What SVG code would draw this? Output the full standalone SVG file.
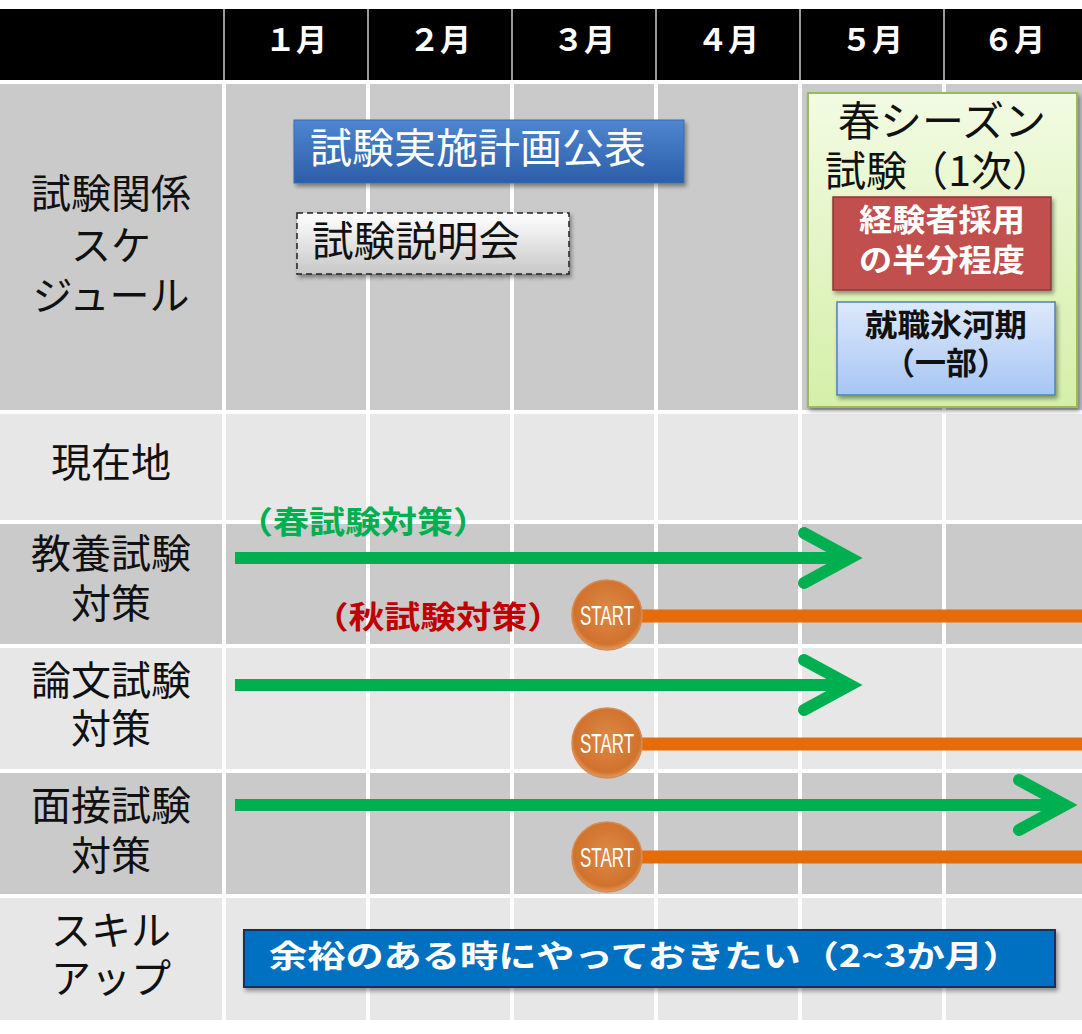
<svg xmlns="http://www.w3.org/2000/svg" width="1082" height="1034" viewBox="0 0 1082 1034">
<defs>
<style>
.hd{fill:#000}
.dk{fill:#cacaca}
.lt{fill:#e7e7e7}
.mh{font-family:"Noto Sans CJK JP","Liberation Sans",sans-serif;font-weight:700;font-size:31px;fill:#fff;text-anchor:middle}
.lb{font-family:"Noto Sans CJK JP","Noto Sans",sans-serif;font-weight:400;font-size:40px;fill:#111;text-anchor:middle}
.bx{font-family:"Noto Sans CJK JP","Noto Sans",sans-serif;font-weight:400;font-size:41px}
.bd{font-family:"Noto Sans CJK JP","Noto Sans",sans-serif;font-weight:700;font-size:31px;text-anchor:middle}
.st{font-family:"Liberation Sans","DejaVu Sans",sans-serif;font-size:27px;fill:#fff;text-anchor:middle}
.gr{fill:none;stroke:#00b050;stroke-width:12}
.or{fill:none;stroke:#e46c0a;stroke-width:13}
</style>
<linearGradient id="gBlue" x1="0" y1="0" x2="0" y2="1">
<stop offset="0" stop-color="#4f86cf"/><stop offset="1" stop-color="#2b5ea8"/>
</linearGradient>
<linearGradient id="gGray" x1="0" y1="0" x2="0" y2="1">
<stop offset="0" stop-color="#ffffff"/><stop offset="1" stop-color="#c8c8c8"/>
</linearGradient>
<linearGradient id="gGreen" x1="0" y1="0" x2="0" y2="1">
<stop offset="0" stop-color="#f2fbe3"/><stop offset="1" stop-color="#d5efa9"/>
</linearGradient>
<linearGradient id="gLBlue" x1="0" y1="0" x2="0" y2="1">
<stop offset="0" stop-color="#dde9fb"/><stop offset="1" stop-color="#a6c6f3"/>
</linearGradient>
<radialGradient id="gOr" cx="0.5" cy="0.45" r="0.55">
<stop offset="0" stop-color="#dd8a48"/><stop offset="0.85" stop-color="#d0722c"/><stop offset="1" stop-color="#e09a62"/>
</radialGradient>
<filter id="sh" x="-10%" y="-20%" width="125%" height="150%">
<feDropShadow dx="2" dy="3" stdDeviation="2" flood-color="#000" flood-opacity="0.4"/>
</filter>
</defs>
<rect width="1082" height="1034" fill="#fff"/>

<g id="grid">
<rect x="0" y="9" width="1082" height="71" fill="#9a9a9a"/>
<rect class="hd" x="0" y="9" width="223" height="71"/>
<rect class="hd" x="225" y="9" width="142" height="71"/>
<rect class="hd" x="369" y="9" width="142" height="71"/>
<rect class="hd" x="513" y="9" width="142" height="71"/>
<rect class="hd" x="657" y="9" width="142" height="71"/>
<rect class="hd" x="801" y="9" width="142" height="71"/>
<rect class="hd" x="945" y="9" width="137" height="71"/>
<text class="mh" x="296" y="51">１月</text>
<text class="mh" x="440" y="51">２月</text>
<text class="mh" x="584" y="51">３月</text>
<text class="mh" x="728" y="51">４月</text>
<text class="mh" x="872" y="51">５月</text>
<text class="mh" x="1014" y="51">６月</text>
<g id="cells">
<rect class="dk" x="0" y="84" width="222" height="326"/>
<rect class="dk" x="226" y="84" width="140" height="326"/><rect class="dk" x="370" y="84" width="140" height="326"/><rect class="dk" x="514" y="84" width="140" height="326"/><rect class="dk" x="658" y="84" width="140" height="326"/><rect class="dk" x="802" y="84" width="140" height="326"/><rect class="dk" x="946" y="84" width="136" height="326"/>
<rect class="lt" x="0" y="414" width="222" height="106"/>
<rect class="lt" x="226" y="414" width="140" height="106"/><rect class="lt" x="370" y="414" width="140" height="106"/><rect class="lt" x="514" y="414" width="140" height="106"/><rect class="lt" x="658" y="414" width="140" height="106"/><rect class="lt" x="802" y="414" width="140" height="106"/><rect class="lt" x="946" y="414" width="136" height="106"/>
<rect class="dk" x="0" y="524" width="222" height="120"/>
<rect class="dk" x="226" y="524" width="140" height="120"/><rect class="dk" x="370" y="524" width="140" height="120"/><rect class="dk" x="514" y="524" width="140" height="120"/><rect class="dk" x="658" y="524" width="140" height="120"/><rect class="dk" x="802" y="524" width="140" height="120"/><rect class="dk" x="946" y="524" width="136" height="120"/>
<rect class="lt" x="0" y="648" width="222" height="121"/>
<rect class="lt" x="226" y="648" width="140" height="121"/><rect class="lt" x="370" y="648" width="140" height="121"/><rect class="lt" x="514" y="648" width="140" height="121"/><rect class="lt" x="658" y="648" width="140" height="121"/><rect class="lt" x="802" y="648" width="140" height="121"/><rect class="lt" x="946" y="648" width="136" height="121"/>
<rect class="dk" x="0" y="773" width="222" height="121"/>
<rect class="dk" x="226" y="773" width="140" height="121"/><rect class="dk" x="370" y="773" width="140" height="121"/><rect class="dk" x="514" y="773" width="140" height="121"/><rect class="dk" x="658" y="773" width="140" height="121"/><rect class="dk" x="802" y="773" width="140" height="121"/><rect class="dk" x="946" y="773" width="136" height="121"/>
<rect class="lt" x="0" y="898" width="222" height="122"/>
<rect class="lt" x="226" y="898" width="140" height="122"/><rect class="lt" x="370" y="898" width="140" height="122"/><rect class="lt" x="514" y="898" width="140" height="122"/><rect class="lt" x="658" y="898" width="140" height="122"/><rect class="lt" x="802" y="898" width="140" height="122"/><rect class="lt" x="946" y="898" width="136" height="122"/>
</g>
</g>

<g id="row-labels">
<text class="lb" x="111" y="208">試験関係</text>
<text class="lb" x="111" y="260">スケ</text>
<text class="lb" x="111" y="310">ジュール</text>
<text class="lb" x="111" y="477">現在地</text>
<text class="lb" x="111" y="568">教養試験</text>
<text class="lb" x="111" y="618">対策</text>
<text class="lb" x="111" y="695">論文試験</text>
<text class="lb" x="111" y="743">対策</text>
<text class="lb" x="111" y="820">面接試験</text>
<text class="lb" x="111" y="870">対策</text>
<text class="lb" x="111" y="945">スキル</text>
<text class="lb" x="111" y="993">アップ</text>
</g>

<g id="plan-publish">
<rect x="294" y="120" width="390" height="63" fill="url(#gBlue)" stroke="#3a6cb5" stroke-width="1" filter="url(#sh)"/>
<text class="bx" x="310" y="163" fill="#fff" textLength="336" lengthAdjust="spacingAndGlyphs">試験実施計画公表</text>
</g>

<g id="briefing">
<rect x="297" y="213" width="272" height="61" fill="url(#gGray)" stroke="#222" stroke-width="1.5" stroke-dasharray="6,4" filter="url(#sh)"/>
<text class="bx" x="312" y="256" fill="#111" textLength="208" lengthAdjust="spacingAndGlyphs">試験説明会</text>
</g>

<g id="spring-exam">
<rect x="808" y="93" width="269" height="314" fill="url(#gGreen)" stroke="#9bbb59" stroke-width="2" filter="url(#sh)"/>
<text class="bx" x="942" y="136" fill="#111" text-anchor="middle" textLength="208" lengthAdjust="spacingAndGlyphs">春シーズン</text>
<text class="bx" x="825" y="186" fill="#111" textLength="228" lengthAdjust="spacingAndGlyphs">試験（1次）</text>
</g>

<g id="experienced">
<rect x="833" y="197" width="218" height="93" fill="#c0504d" stroke="#8c3836" stroke-width="1.5" filter="url(#sh)"/>
<text class="bd" x="942" y="231" fill="#fff" textLength="166" lengthAdjust="spacingAndGlyphs">経験者採用</text>
<text class="bd" x="942" y="271" fill="#fff" textLength="166" lengthAdjust="spacingAndGlyphs">の半分程度</text>
</g>

<g id="hyogaki">
<rect x="837" y="302" width="218" height="93" fill="url(#gLBlue)" stroke="#4f81bd" stroke-width="1.5" filter="url(#sh)"/>
<text class="bd" x="946" y="336" fill="#111" textLength="162" lengthAdjust="spacingAndGlyphs">就職氷河期</text>
<text class="bd" x="946" y="374" fill="#111">（一部）</text>
</g>

<g id="connectors">
<line class="gr" x1="235" y1="558" x2="844" y2="558"/>
<polyline class="gr" points="804,533 850,558 804,583" stroke-linecap="round"/>
<line class="gr" x1="235" y1="685" x2="844" y2="685"/>
<polyline class="gr" points="804,660 850,685 804,710" stroke-linecap="round"/>
<line class="gr" x1="235" y1="805" x2="1059" y2="805"/>
<polyline class="gr" points="1019,780 1065,805 1019,830" stroke-linecap="round"/>
<line class="or" x1="630" y1="616" x2="1082" y2="616"/>
<line class="or" x1="630" y1="744" x2="1082" y2="744"/>
<line class="or" x1="630" y1="857" x2="1082" y2="857"/>
</g>

<g id="spring-label">
<text class="bd" x="363" y="533" fill="#00b050" font-size="33" textLength="252" lengthAdjust="spacingAndGlyphs">（春試験対策）</text>
</g>
<g id="autumn-label">
<text class="bd" x="438" y="628" fill="#c00000" font-size="33" textLength="250" lengthAdjust="spacingAndGlyphs">（秋試験対策）</text>
</g>

<g id="start-1">
<circle cx="607" cy="615" r="35" fill="url(#gOr)" stroke="#d98a50" stroke-width="1.5"/>
<text class="st" x="607" y="625" textLength="54" lengthAdjust="spacingAndGlyphs">START</text>
</g>
<g id="start-2">
<circle cx="607" cy="743" r="35" fill="url(#gOr)" stroke="#d98a50" stroke-width="1.5"/>
<text class="st" x="607" y="753" textLength="54" lengthAdjust="spacingAndGlyphs">START</text>
</g>
<g id="start-3">
<circle cx="607" cy="857" r="35" fill="url(#gOr)" stroke="#d98a50" stroke-width="1.5"/>
<text class="st" x="607" y="867" textLength="54" lengthAdjust="spacingAndGlyphs">START</text>
</g>

<g id="skill-bar">
<rect x="244" y="930" width="811" height="57" fill="#0070c0" stroke="#1f2d5c" stroke-width="2" filter="url(#sh)"/>
<text class="bd" x="645" y="967" fill="#fff" font-size="33" textLength="752" lengthAdjust="spacingAndGlyphs">余裕のある時にやっておきたい（2~3か月）</text>
</g>
</svg>
